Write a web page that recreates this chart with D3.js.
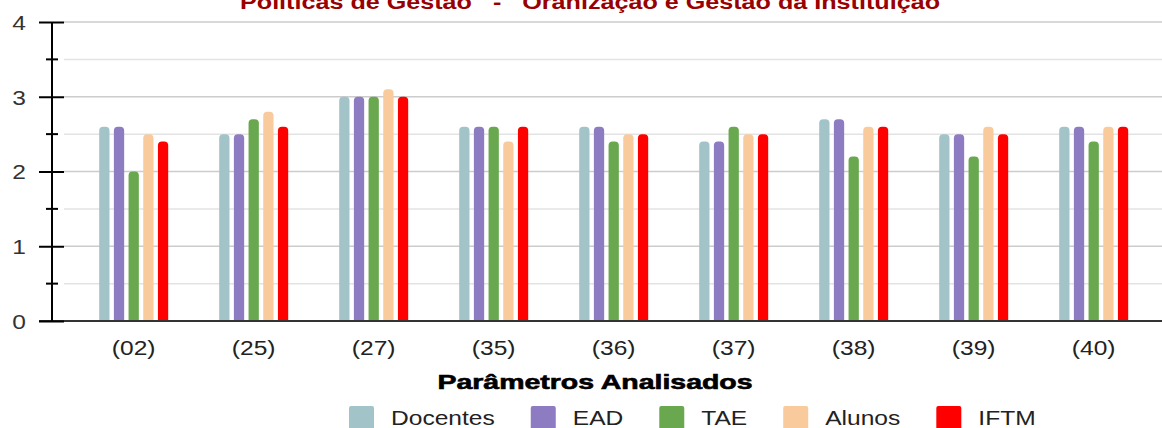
<!DOCTYPE html>
<html>
<head>
<meta charset="utf-8">
<script src="https://cdn.jsdelivr.net/npm/d3@7"></script>
<style>
body { margin: 0; background: #fff; }
svg { display: block; font-family: Arial, "Liberation Sans", sans-serif; }
</style>
</head>
<body>
<div id="chart"></div>
<script>
// data
var categories = ["(02)", "(25)", "(27)", "(35)", "(36)", "(37)", "(38)", "(39)", "(40)"];
var seriesNames = ["Docentes", "EAD", "TAE", "Alunos", "IFTM"];
var docentes = [2.6, 2.5, 3.0, 2.6, 2.6, 2.4, 2.7, 2.5, 2.6];
var ead      = [2.6, 2.5, 3.0, 2.6, 2.6, 2.4, 2.7, 2.5, 2.6];
var tae      = [2.0, 2.7, 3.0, 2.6, 2.4, 2.6, 2.2, 2.2, 2.4];
var alunos   = [2.5, 2.8, 3.1, 2.4, 2.5, 2.5, 2.6, 2.6, 2.6];
var iftm     = [2.4, 2.6, 3.0, 2.6, 2.5, 2.5, 2.6, 2.5, 2.6];
var yTicks = [0, 1, 2, 3, 4];
var yMinorTicks = [0.5, 1.5, 2.5, 3.5];
var colors = ["#a2c4c9", "#8e7cc3", "#6aa84f", "#f9cb9c", "#ff0000"];
var titleText = "Políticas de Gestão   -   Oranização e Gestão da Instituição";
var xTitleText = "Parâmetros Analisados";

var seriesValues = [docentes, ead, tae, alunos, iftm];
var table = categories.map(function(c, i) {
    return { cat: c, vals: seriesNames.map(function(s, j) { return { name: s, value: seriesValues[j][i] }; }) };
});

var W = 1162, H = 428;
var sx = 1.17; // the picture is a bit stretched sideways

var svg = d3.select("#chart").append("svg").attr("width", W).attr("height", H);

var axisX = 52;
var y = d3.scaleLinear().domain([0, 4]).range([321, 22]);
var x0 = d3.scaleBand().domain(categories).range([73.7, 1153.7]).padding(0);
var x1 = d3.scaleBand().domain(seriesNames).range([-34.5, 34.5]).paddingInner(0.3).paddingOuter(0);
var color = d3.scaleOrdinal().domain(seriesNames).range(colors);

// grid
svg.append("g").selectAll("line.minor").data(yMinorTicks).enter().append("line")
    .attr("x1", 64).attr("x2", W).attr("y1", function(d) { return y(d); }).attr("y2", function(d) { return y(d); })
    .style("stroke", "#e3e3e3").style("stroke-width", 1.5);
svg.append("g").selectAll("line.major").data(yTicks.filter(function(d) { return d > 0; })).enter().append("line")
    .attr("x1", 64).attr("x2", W).attr("y1", function(d) { return y(d); }).attr("y2", function(d) { return y(d); })
    .style("stroke", "#cccccc").style("stroke-width", 1.5);

// bars, only the top corners rounded
function topRounded(x, yTop, w, h, r) {
    r = Math.min(r, w / 2, h);
    return "M" + x + "," + (yTop + h) +
        "V" + (yTop + r) +
        "Q" + x + "," + yTop + " " + (x + r) + "," + yTop +
        "H" + (x + w - r) +
        "Q" + (x + w) + "," + yTop + " " + (x + w) + "," + (yTop + r) +
        "V" + (yTop + h) + "Z";
}

var groups = svg.append("g").selectAll("g.grp").data(table).enter().append("g")
    .attr("class", "grp")
    .attr("transform", function(d) { return "translate(" + (x0(d.cat) + x0.bandwidth() / 2) + ",0)"; });

groups.selectAll("path").data(function(d) { return d.vals; }).enter().append("path")
    .attr("d", function(d) {
        return topRounded(x1(d.name), y(d.value), x1.bandwidth(), y(0) - y(d.value), 4);
    })
    .style("fill", function(d) { return color(d.name); });

// baseline
svg.append("line").attr("x1", 39).attr("x2", W).attr("y1", y(0)).attr("y2", y(0))
    .style("stroke", "#333").style("stroke-width", 2);

// y axis
var yAxis = d3.axisLeft(y).tickValues(yTicks).tickSize(12).tickFormat(d3.format("d"));
var yg = svg.append("g").attr("transform", "translate(" + axisX + ",0)").call(yAxis);
yg.select(".domain").remove();
yg.append("line").attr("x1", 0).attr("x2", 0).attr("y1", y(4)).attr("y2", y(0)).style("stroke", "#000").style("stroke-width", 2);
yg.selectAll(".tick line").attr("x1", -13).attr("x2", 12).style("stroke", "#000").style("stroke-width", 2);
yg.selectAll(".tick text")
    .attr("x", -26 / sx).attr("dy", "0.35em")
    .attr("transform", "scale(" + sx + ",1)")
    .style("font-size", "21px").style("fill", "#333").style("font-family", "Arial, 'Liberation Sans', sans-serif");
yg.selectAll("line.minor").data(yMinorTicks).enter().append("line")
    .attr("x1", -6).attr("x2", 6).attr("y1", function(d) { return y(d); }).attr("y2", function(d) { return y(d); })
    .style("stroke", "#000").style("stroke-width", 2);

// x axis labels
var xAxis = d3.axisBottom(x0).tickSize(0).tickPadding(0);
var xg = svg.append("g").attr("transform", "translate(0," + y(0) + ")").call(xAxis);
xg.select(".domain").remove();
xg.selectAll(".tick text")
    .attr("y", 34).attr("dy", 0)
    .attr("transform", "scale(" + sx + ",1)")
    .style("font-size", "21px").style("fill", "#222").style("font-family", "Arial, 'Liberation Sans', sans-serif");

// title (mostly cut off at the top)
svg.append("text")
    .attr("x", 590).attr("y", 9)
    .attr("text-anchor", "middle")
    .attr("textLength", 700).attr("lengthAdjust", "spacingAndGlyphs")
    .style("font-size", "20px").style("font-weight", "bold").style("fill", "#990000")
    .style("white-space", "pre")
    .text(titleText);

// x axis title
svg.append("text")
    .attr("x", 595).attr("y", 389)
    .attr("text-anchor", "middle")
    .attr("textLength", 315).attr("lengthAdjust", "spacingAndGlyphs")
    .style("font-size", "20px").style("font-weight", "bold").style("fill", "#000")
    .style("stroke", "#000").style("stroke-width", 0.6)
    .text(xTitleText);

// legend
var legend = svg.append("g").attr("transform", "translate(349,0)");
var lx = 0;
seriesNames.forEach(function(s) {
    var item = legend.append("g").attr("transform", "translate(" + lx + ",0)");
    item.append("rect").attr("x", 0).attr("y", 406).attr("width", 25).attr("height", 25)
        .attr("rx", 2).style("fill", color(s));
    var t = item.append("text")
        .attr("x", 0).attr("y", 425)
        .attr("transform", "translate(42,0) scale(" + sx + ",1)")
        .style("font-size", "21px").style("fill", "#222")
        .text(s);
    var tw = t.node().getComputedTextLength() * sx;
    lx += 42 + tw + 36;
});
</script>
</body>
</html>
